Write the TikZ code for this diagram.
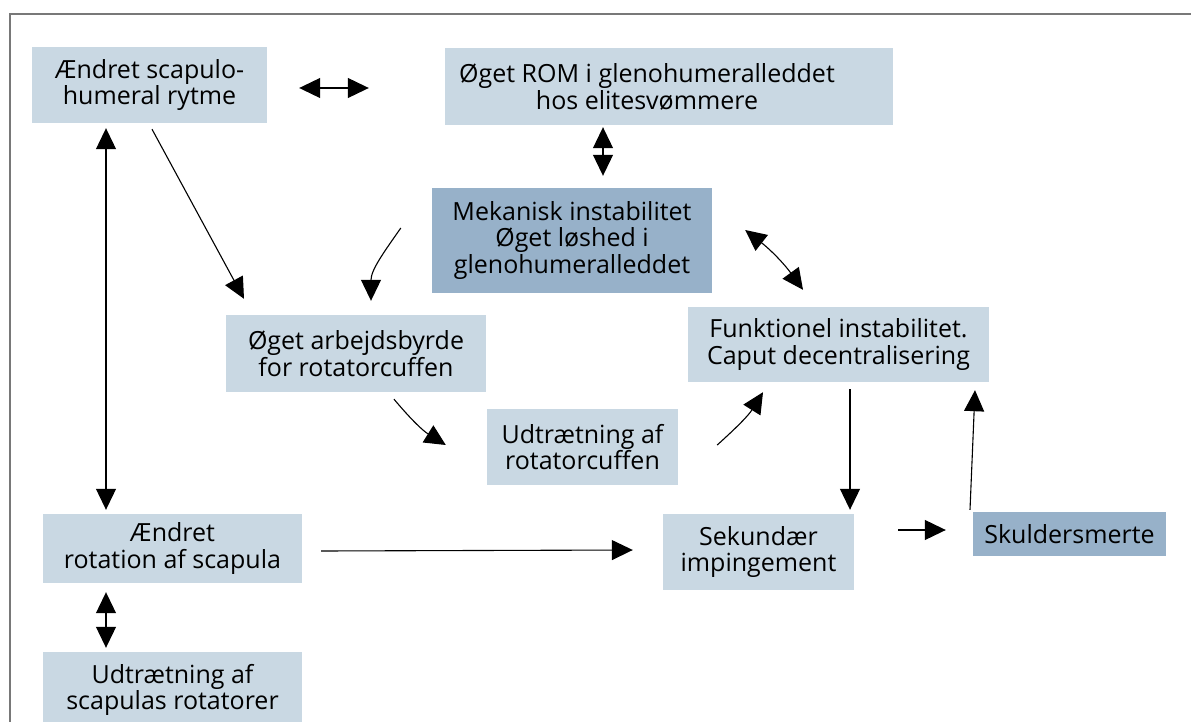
\documentclass[tikz,border=0pt]{standalone}
\usepackage{fontspec}
\setmainfont{Open Sans}
\usetikzlibrary{arrows.meta}
\definecolor{boxlight}{RGB}{201,216,227}
\definecolor{boxdark}{RGB}{151,177,201}
\definecolor{framegray}{RGB}{120,120,120}
\tikzset{
  box/.style={fill=boxlight, inner sep=0pt, align=center, font=\fontsize{25}{26.5}\selectfont},
  darkbox/.style={box, fill=boxdark},
  txt/.style={inner sep=0pt, align=center, font=\fontsize{25}{26.5}\selectfont},
  tip/.tip={Triangle[length=21pt,width=20pt]},
  con/.style={line width=1.1pt, -tip},
  dcon/.style={line width=1.1pt, tip-tip},
}
\begin{document}
\begin{tikzpicture}[x=1pt,y=-1pt]
\useasboundingbox (0,0) rectangle (1191,722);
\clip (0,0) rectangle (1191,722);
\draw[framegray, line width=2pt] (9.5,730) -- (9.5,14) -- (1195,14);

\node[box, minimum width=235pt, minimum height=76pt] (b1) at (149.5,85) {Ændret scapulo-\\humeral rytme};
\node[box, minimum width=448pt, minimum height=77pt] (b2) at (669,86.5) {};
\node[txt] (t2) at (647,87) {Øget ROM i glenohumeralleddet\\hos elitesvømmere};
\node[darkbox, minimum width=280pt, minimum height=105pt] (b3) at (572,240.5) {Mekanisk instabilitet\\Øget løshed i\\glenohumeralleddet};
\node[box, minimum width=260pt, minimum height=77pt] (b4) at (356,353.5) {Øget arbejdsbyrde\\for rotatorcuffen};
\node[box, minimum width=301pt, minimum height=75pt] (b5) at (838.5,344.5) {Funktionel instabilitet.\\Caput decentralisering};
\node[box, minimum width=191pt, minimum height=76pt] (b6) at (582.5,447) {Udtrætning af\\rotatorcuffen};
\node[box, minimum width=191pt, minimum height=76pt] (b7) at (758.5,552) {Sekundær\\impingement};
\node[darkbox, minimum width=193pt, minimum height=44pt] (b8) at (1069.5,534) {Skuldersmerte};
\node[box, minimum width=259pt, minimum height=69pt] (b9) at (172.5,548.5) {Ændret\\rotation af scapula};
\node[box, minimum width=259pt, minimum height=76pt] (b10) at (172.5,690) {Udtrætning af\\scapulas rotatorer};

% connectors
\draw[dcon] ([shift={(32,3)}]b1.east) -- ([shift={(-76,1.5)}]b2.west);
\draw[dcon] ([shift={(-66,2)}]b2.south) -- ([shift={(31,-12)}]b3.north);
\draw[dcon] ([shift={(-43.5,5)}]b1.south) -- ([shift={(-66.5,-4)}]b9.north);
\draw[con] ([shift={(2.5,6)}]b1.south) -- ([shift={(-112,-16)}]b4.north);
\draw[con] ([shift={(-31,-12.5)}]b3.west) to[out=235, in=90] ([shift={(15,-14)}]b4.north);
\draw[dcon] ([shift={(33,-10.5)}]b3.east) to[out=322, in=126] ([shift={(-35.5,-17)}]b5.north);
\draw[con] ([shift={(38,7)}]b4.south) to[out=310, in=148] ([shift={(-41,-2)}]b6.west);
\draw[con] ([shift={(39,-2)}]b6.east) to[out=42, in=238] ([shift={(-75.5,10)}]b5.south);
\draw[con] ([shift={(11.5,7)}]b5.south) -- ([shift={(91.5,-4)}]b7.north);
\draw[con] ([shift={(44,-22)}]b7.east) -- ([shift={(-27,-4)}]b8.west);
\draw[con] ([shift={(-99.5,-2)}]b8.north) -- ([shift={(136.5,8)}]b5.south);
\draw[con] ([shift={(19,2.5)}]b9.east) -- ([shift={(-30,-2)}]b7.west);
\draw[dcon] ([shift={(-66.5,9)}]b9.south) -- ([shift={(-66.5,-4)}]b10.north);
\end{tikzpicture}
\end{document}
